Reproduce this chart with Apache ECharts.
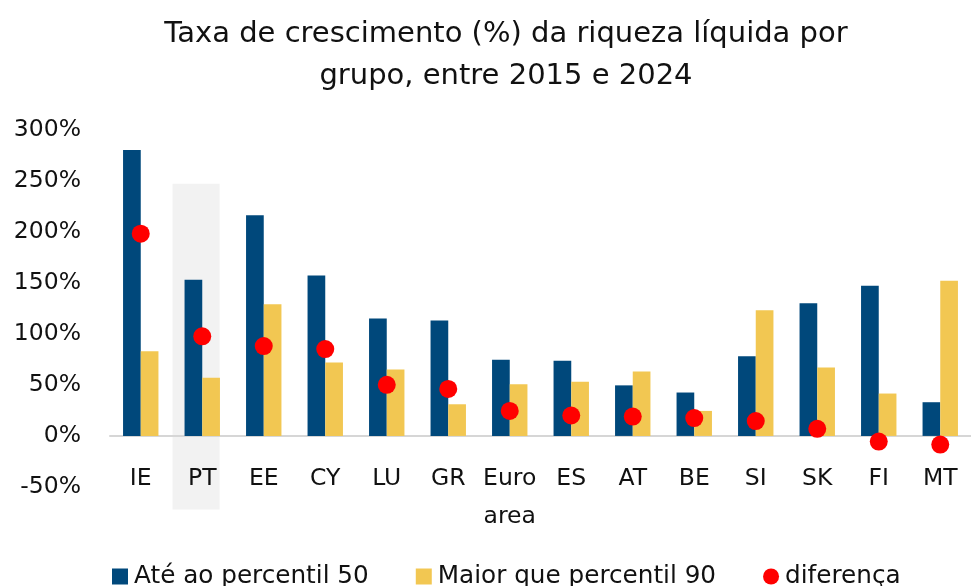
<!DOCTYPE html>
<html>
<head>
<meta charset="utf-8">
<script src="https://cdn.jsdelivr.net/npm/echarts@6/dist/echarts.min.js"></script>
<style>html,body{margin:0;padding:0;background:#fff}#c{width:971px;height:586px}</style>
</head>
<body>
<div id="c"></div>
<script>
const categories = ['IE','PT','EE','CY','LU','GR','Euro\narea','ES','AT','BE','SI','SK','FI','MT'];
const ateP50 = [280, 153, 216, 157, 115, 113, 74.5, 73.5, 49.5, 42.5, 78, 130, 147, 33];
const maiorP90 = [83, 57, 129, 72, 65, 31, 50.5, 53, 63, 24.5, 123, 67, 41.5, 152];
const diferenca = [198, 97.5, 88, 85, 50, 46, 24.5, 20, 19, 17.5, 14.5, 7, -5.5, -8.5];
const yTicks = [-50, 0, 50, 100, 150, 200, 250, 300];
const highlight = ['PT', -72, 247];
const seriesNames = ['Até ao percentil 50', 'Maior que percentil 90', 'diferença'];

const FONT = 'DejaVu Sans';
const chart = echarts.init(document.getElementById('c'), null, {renderer: 'canvas'});
chart.setOption({
  animation: false,
  textStyle: {fontFamily: FONT, color: '#111'},
  title: {
    text: 'Taxa de crescimento (%) da riqueza líquida por\ngrupo, entre 2015 e 2024',
    left: 501, top: 8, textAlign: 'center',
    textStyle: {fontFamily: FONT, fontSize: 29, fontWeight: 'normal', color: '#111', lineHeight: 42}
  },
  grid: {left: 110, right: 0, top: 129.5, bottom: 99, containLabel: false},
  legend: {
    data: [
      {name: seriesNames[0], icon: 'rect'},
      {name: seriesNames[1], icon: 'rect'},
      {name: seriesNames[2], icon: 'circle'}
    ],
    left: 107, top: 559, itemWidth: 16, itemHeight: 16, itemGap: 47,
    textStyle: {fontFamily: FONT, fontSize: 24.7, color: '#111', padding: [0,0,0,1]}
  },
  xAxis: {
    type: 'category', data: categories,
    axisLine: {onZero: true, lineStyle: {color: '#d6d6d6', width: 2}},
    axisTick: {show: false},
    axisLabel: {fontFamily: FONT, fontSize: 23.5, color: '#111', margin: -27, lineHeight: 38, interval: 0}
  },
  yAxis: {
    type: 'value', min: yTicks[0], max: yTicks[yTicks.length-1], interval: 50,
    axisLine: {show: false}, axisTick: {show: false}, splitLine: {show: false},
    axisLabel: {fontFamily: FONT, fontSize: 23.5, color: '#111', margin: 29, formatter: v => v + '%'}
  },
  series: [
    {
      type: 'custom', silent: true, z: 0, clip: false,
      data: [highlight],
      encode: {x: 0, y: [1, 2]},
      renderItem: function (params, api) {
        const band = api.size([1, 0])[0];
        const cx = api.coord([api.value(0), 0])[0] - band * 0.1;
        const top = api.coord([api.value(0), api.value(2)])[1];
        const bot = api.coord([api.value(0), api.value(1)])[1];
        const w = band * 0.765;
        return {type: 'rect', shape: {x: cx - w / 2, y: top, width: w, height: bot - top}, style: {fill: '#f2f2f2'}};
      }
    },
    {name: seriesNames[0], type: 'bar', data: ateP50, barWidth: 17.7, barGap: '0%', z: 2,
     itemStyle: {color: '#00487b'}},
    {name: seriesNames[1], type: 'bar', data: maiorP90, barWidth: 17.7, barGap: '0%', z: 2,
     itemStyle: {color: '#f2c752'}},
    {name: seriesNames[2], type: 'scatter', data: diferenca, symbol: 'circle', symbolSize: 18, z: 5,
     itemStyle: {color: '#ff0000', opacity: 1}}
  ]
});
</script>
</body>
</html>
